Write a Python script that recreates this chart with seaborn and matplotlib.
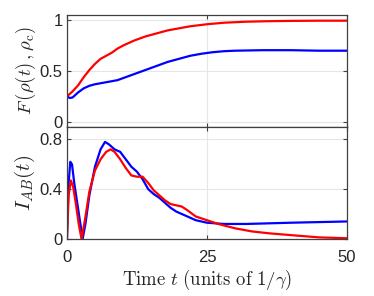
import matplotlib
matplotlib.use("Agg")
import matplotlib.pyplot as plt
import seaborn as sns
import pandas as pd

# Fidelity F(rho(t), rho_c)
t_fid_red = [0, 1, 2, 3, 4, 5, 6, 7, 8, 9, 10, 12, 14, 16, 18, 20, 22, 25, 28, 32, 36, 40, 45, 50]
fid_red = [0.25, 0.30, 0.36, 0.44, 0.51, 0.57, 0.62, 0.65, 0.68, 0.72, 0.75, 0.80, 0.84, 0.87,
           0.90, 0.92, 0.94, 0.96, 0.975, 0.985, 0.99, 0.993, 0.995, 0.995]
t_fid_blue = [0, 0.5, 1, 2, 3, 4, 5, 6, 7, 8, 9, 10, 11, 12, 14, 16, 18, 20, 22, 24, 26, 28,
              30, 35, 40, 45, 50]
fid_blue = [0.25, 0.235, 0.24, 0.29, 0.33, 0.355, 0.37, 0.38, 0.39, 0.40, 0.41, 0.43, 0.45,
            0.47, 0.51, 0.55, 0.59, 0.62, 0.65, 0.67, 0.685, 0.695, 0.70, 0.705, 0.705, 0.70, 0.70]

# Mutual information I_AB(t)
t_mi_blue = [0, 0.3, 0.6, 0.9, 1.3, 1.8, 2.3, 2.8, 3.3, 4, 5, 6, 6.8, 7.5, 8.5, 9.5, 10.5, 11.5,
             12.5, 13.5, 14.5, 15.5, 16.5, 17.5, 18.5, 19.5, 21, 23, 25, 28, 32, 36, 40, 45, 50]
mi_blue = [0, 0.45, 0.62, 0.60, 0.45, 0.30, 0.15, 0.0, 0.12, 0.35, 0.58, 0.72, 0.78, 0.76, 0.72,
           0.70, 0.64, 0.58, 0.54, 0.48, 0.40, 0.36, 0.33, 0.29, 0.25, 0.22, 0.19, 0.15, 0.13,
           0.12, 0.12, 0.125, 0.13, 0.135, 0.14]
t_mi_red = [0, 0.3, 0.7, 1.1, 1.6, 2.1, 2.6, 3.2, 4, 5, 6, 7, 7.8, 8.5, 9.5, 10.5, 11.5, 12.5,
            13.5, 14.5, 15.5, 16.5, 17.5, 18.5, 19.5, 20.5, 21.5, 23, 25, 27, 30, 33, 36, 40, 45, 50]
mi_red = [0, 0.35, 0.47, 0.42, 0.28, 0.12, 0.0, 0.15, 0.38, 0.55, 0.64, 0.70, 0.72, 0.70, 0.64,
          0.57, 0.51, 0.50, 0.50, 0.45, 0.39, 0.35, 0.31, 0.28, 0.27, 0.26, 0.23, 0.18, 0.15,
          0.12, 0.085, 0.06, 0.045, 0.03, 0.012, 0.005]

x_ticks = [0, 25, 50]
fid_ticks = [0, 0.5, 1]
fid_tick_labels = ["0", "0.5", "1"]
mi_ticks = [0, 0.4, 0.8]
mi_tick_labels = ["0", "0.4", "0.8"]

sns.set_style("ticks")
plt.rcParams.update({
    "font.family": ["Liberation Sans", "DejaVu Sans"],
    "mathtext.fontset": "cm",
    "axes.edgecolor": "#404040",
    "axes.linewidth": 0.9,
    "xtick.direction": "in",
    "ytick.direction": "in",
    "xtick.color": "#404040",
    "ytick.color": "#404040",
    "xtick.labelcolor": "#262626",
    "ytick.labelcolor": "#262626",
})

fig = plt.figure(figsize=(3.74, 2.96), dpi=100)
ax_top = fig.add_axes([0.179, 0.571, 0.749, 0.378])
ax_bot = fig.add_axes([0.179, 0.193, 0.749, 0.378])

sns.lineplot(x=t_fid_red, y=fid_red, ax=ax_top, color="#ff0000", lw=1.6)
sns.lineplot(x=t_fid_blue, y=fid_blue, ax=ax_top, color="#0000ff", lw=1.6)
sns.lineplot(x=t_mi_blue, y=mi_blue, ax=ax_bot, color="#0000ff", lw=1.6)
sns.lineplot(x=t_mi_red, y=mi_red, ax=ax_bot, color="#ff0000", lw=1.6)

for ax in (ax_top, ax_bot):
    ax.set_xlim(0, 50)
    ax.set_xticks(x_ticks)
    ax.grid(True, color="#e6e6e6", lw=0.8)
    ax.set_axisbelow(True)
    ax.tick_params(top=True, right=True, length=3, width=0.8, labelsize=12, pad=3)
    ax.tick_params(axis="x", pad=8)
    for s in ax.spines.values():
        s.set_visible(True)

ax_top.set_ylim(-0.05, 1.05)
ax_top.set_yticks(fid_ticks)
ax_top.set_yticklabels(fid_tick_labels)
ax_top.set_xticklabels([])
ax_top.set_ylabel(r"$F\,(\rho(t)\,,\rho_{\rm c})$", fontsize=13.5, labelpad=1)

ax_bot.set_ylim(0, 0.9)
ax_bot.set_yticks(mi_ticks)
ax_bot.set_yticklabels(mi_tick_labels)
ax_bot.set_ylabel(r"$I_{AB}(t)$", fontsize=15, labelpad=2)
ax_bot.set_xticklabels([str(v) for v in x_ticks])
ax_bot.set_xlabel(r"$\mathrm{Time}\ t\ (\mathrm{units\ of}\ 1/\gamma)$", fontsize=13.5, labelpad=2)

fig.savefig("out.png", dpi=100, facecolor="white")
